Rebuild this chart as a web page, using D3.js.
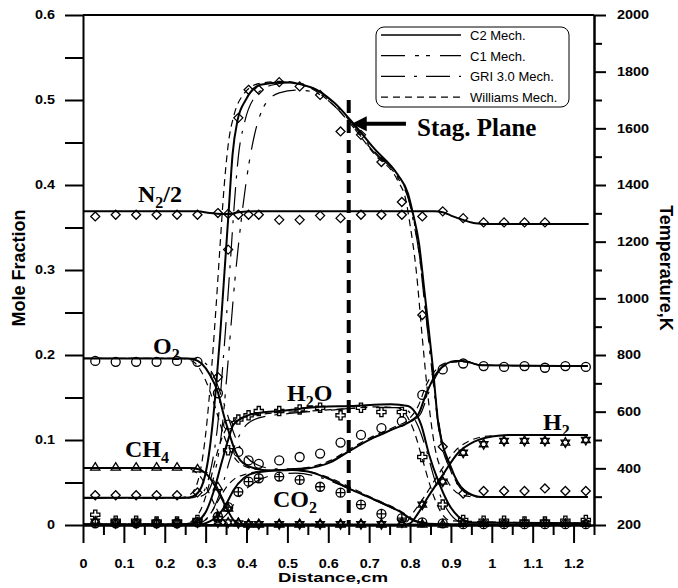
<!DOCTYPE html>
<html>
<head>
<meta charset="utf-8">
<script src="https://cdn.jsdelivr.net/npm/d3@7"></script>
<style>
  body { margin: 0; background: #fff; }
  svg { display: block; }
  .axis text { font-family: 'Liberation Sans', Arial, sans-serif; font-weight: bold; font-size: 12px; fill: #000; }
  .axis path, .axis line { stroke: #000; stroke-width: 2; }
  .title { font-family: 'Liberation Sans', Arial, sans-serif; font-weight: bold; font-size: 18px; }
  .lbl { font-family: 'Liberation Serif', 'Times New Roman', serif; font-weight: bold; font-size: 24px; }
  .legend text { font-family: 'Liberation Sans', Arial, sans-serif; font-size: 13px; }
</style>
</head>
<body>
<div id="chart"></div>
<script>
// ---- data: [distance cm, value] ----
// temperature (K), right axis
const tempC2 = [[0,296],[0.25,296],[0.27,302],[0.29,335],[0.31,470],[0.325,680],[0.335,860],[0.345,1070],[0.356,1300],[0.366,1510],[0.378,1628],[0.398,1700],[0.434,1754],[0.49,1763],[0.557,1745],[0.614,1691],[0.655,1628],[0.712,1529],[0.77,1436],[0.795,1370],[0.807,1300],[0.822,1193],[0.835,1028],[0.857,737],[0.868,572],[0.9,404],[0.932,323],[0.974,299],[1.235,299]];
const tempC1 = [[0,296],[0.27,296],[0.30,310],[0.32,370],[0.34,540],[0.355,780],[0.37,1040],[0.385,1250],[0.40,1420],[0.42,1580],[0.447,1688],[0.48,1725],[0.52,1735],[0.56,1730],[0.614,1680],[0.655,1615],[0.712,1515],[0.77,1425],[0.795,1355],[0.81,1270],[0.825,1130],[0.84,930],[0.86,680],[0.875,520],[0.9,395],[0.935,315],[0.98,299],[1.235,299]];
const tempGRI = [[0,296],[0.26,296],[0.29,310],[0.31,380],[0.33,560],[0.345,820],[0.36,1120],[0.37,1330],[0.38,1500],[0.395,1620],[0.42,1710],[0.46,1752],[0.51,1762],[0.56,1745],[0.614,1688],[0.655,1622],[0.712,1520],[0.77,1428],[0.795,1360],[0.807,1280],[0.822,1160],[0.835,990],[0.857,700],[0.87,540],[0.9,390],[0.935,315],[0.98,299],[1.235,299]];
const tempWil = [[0,296],[0.24,296],[0.26,305],[0.28,350],[0.30,520],[0.315,760],[0.325,960],[0.335,1180],[0.345,1390],[0.355,1540],[0.37,1650],[0.39,1715],[0.43,1758],[0.49,1766],[0.557,1742],[0.614,1680],[0.655,1615],[0.712,1510],[0.77,1415],[0.79,1345],[0.80,1260],[0.815,1100],[0.83,860],[0.845,640],[0.86,480],[0.89,360],[0.92,310],[0.96,299],[1.235,299]];

// mole fractions, left axis
const n2C2 = [[0,0.369],[0.28,0.369],[0.31,0.367],[0.34,0.366],[0.36,0.366],[0.38,0.368],[0.42,0.369],[0.86,0.369],[0.88,0.368],[0.9,0.364],[0.93,0.359],[0.96,0.355],[1.0,0.354],[1.237,0.354]];

const o2C2 = [[0,0.196],[0.25,0.196],[0.27,0.195],[0.29,0.19],[0.31,0.177],[0.33,0.156],[0.345,0.128],[0.355,0.112],[0.37,0.09],[0.385,0.076],[0.417,0.067],[0.46,0.064],[0.54,0.066],[0.606,0.074],[0.655,0.088],[0.712,0.103],[0.76,0.113],[0.807,0.124],[0.82,0.13],[0.84,0.155],[0.864,0.178],[0.89,0.19],[0.91,0.193],[0.93,0.193],[0.974,0.188],[1.235,0.187]];
const o2Wil = [[0,0.196],[0.24,0.196],[0.27,0.192],[0.29,0.18],[0.31,0.158],[0.33,0.128],[0.345,0.105],[0.36,0.088],[0.38,0.074],[0.417,0.066],[0.46,0.064],[0.54,0.067],[0.606,0.076],[0.655,0.09],[0.712,0.105],[0.76,0.115],[0.8,0.126],[0.82,0.14],[0.84,0.165],[0.864,0.183],[0.89,0.191],[0.93,0.192],[0.974,0.188],[1.235,0.187]];
const o2GRI = [[0,0.196],[0.27,0.196],[0.3,0.19],[0.32,0.175],[0.34,0.15],[0.36,0.12],[0.38,0.095],[0.40,0.08],[0.43,0.07],[0.47,0.066],[0.54,0.067],[0.606,0.075],[0.655,0.088],[0.712,0.103],[0.76,0.113],[0.807,0.123],[0.825,0.13],[0.845,0.155],[0.87,0.18],[0.9,0.191],[0.93,0.193],[0.974,0.188],[1.235,0.187]];

const ch4C2 = [[0,0.067],[0.26,0.067],[0.28,0.066],[0.304,0.059],[0.329,0.041],[0.353,0.018],[0.368,0.006],[0.385,0.001],[1.235,0]];
const ch4Wil = [[0,0.067],[0.25,0.067],[0.27,0.064],[0.29,0.055],[0.31,0.036],[0.33,0.016],[0.345,0.005],[0.36,0.001],[1.235,0]];
const ch4GRI = [[0,0.067],[0.28,0.067],[0.30,0.063],[0.32,0.052],[0.34,0.033],[0.36,0.014],[0.375,0.004],[0.39,0.001],[1.235,0]];

const h2oC2 = [[0,0.001],[0.25,0.001],[0.28,0.005],[0.3,0.015],[0.32,0.04],[0.34,0.075],[0.355,0.1],[0.368,0.118],[0.39,0.126],[0.417,0.131],[0.5,0.135],[0.582,0.139],[0.655,0.14],[0.753,0.142],[0.795,0.14],[0.807,0.136],[0.827,0.118],[0.847,0.082],[0.868,0.053],[0.893,0.026],[0.918,0.01],[0.95,0.003],[1.235,0.002]];
const h2oWil = [[0,0.001],[0.24,0.001],[0.27,0.006],[0.29,0.02],[0.31,0.05],[0.33,0.088],[0.35,0.113],[0.37,0.123],[0.40,0.128],[0.45,0.131],[0.55,0.134],[0.65,0.137],[0.72,0.139],[0.77,0.138],[0.79,0.13],[0.81,0.11],[0.83,0.078],[0.85,0.045],[0.87,0.02],[0.9,0.005],[1.235,0.002]];
const h2oGRI = [[0,0.001],[0.27,0.001],[0.30,0.006],[0.32,0.02],[0.34,0.045],[0.36,0.078],[0.38,0.103],[0.40,0.118],[0.43,0.126],[0.5,0.131],[0.6,0.135],[0.7,0.138],[0.78,0.138],[0.80,0.132],[0.82,0.116],[0.84,0.088],[0.86,0.054],[0.88,0.028],[0.9,0.012],[0.93,0.003],[1.235,0.002]];

const co2C2 = [[0,0],[0.28,0],[0.30,0.002],[0.32,0.007],[0.34,0.017],[0.353,0.027],[0.368,0.041],[0.393,0.055],[0.427,0.062],[0.5,0.065],[0.55,0.063],[0.598,0.055],[0.655,0.042],[0.712,0.03],[0.778,0.015],[0.81,0.005],[0.85,0.001],[1.235,0]];
const co2Wil = [[0,0],[0.26,0],[0.29,0.003],[0.31,0.012],[0.33,0.028],[0.35,0.044],[0.37,0.054],[0.40,0.06],[0.45,0.064],[0.5,0.065],[0.55,0.063],[0.6,0.056],[0.655,0.044],[0.712,0.031],[0.778,0.016],[0.81,0.006],[0.85,0.001],[1.235,0]];
const co2GRI = [[0,0],[0.3,0],[0.33,0.004],[0.35,0.012],[0.37,0.025],[0.39,0.038],[0.42,0.05],[0.46,0.058],[0.52,0.061],[0.58,0.056],[0.64,0.045],[0.7,0.032],[0.76,0.019],[0.8,0.008],[0.84,0.002],[1.235,0]];

const h2C2 = [[0,0],[0.78,0],[0.8,0.002],[0.82,0.014],[0.844,0.033],[0.876,0.056],[0.918,0.085],[0.957,0.098],[1.0,0.104],[1.04,0.106],[1.235,0.106]];
const h2Wil = [[0,0],[0.77,0],[0.79,0.003],[0.81,0.016],[0.84,0.037],[0.87,0.06],[0.91,0.087],[0.95,0.1],[1.0,0.105],[1.235,0.106]];

// measured points (shared distances)
const xExp = [0.03,0.08,0.13,0.18,0.23,0.28,0.33,0.355,0.38,0.405,0.43,0.48,0.53,0.58,0.63,0.68,0.73,0.78,0.83,0.88,0.93,0.98,1.03,1.08,1.13,1.18,1.23];
const tempExp = [305,305,305,305,305,315,722,1172,1637,1736,1736,1763,1748,1718,1589,1577,1481,1340,941,476,311,320,320,320,329,320,320];
const n2Exp = [0.363,0.365,0.365,0.365,0.365,0.365,0.367,0.366,0.365,0.365,0.365,0.359,0.359,0.364,0.361,0.365,0.365,0.365,0.363,0.369,0.361,0.356,0.356,0.356,0.356,null,null];
const o2Exp = [0.193,0.192,0.192,0.192,0.193,0.192,0.155,0.118,0.086,0.076,0.072,0.076,0.08,0.084,0.097,0.106,0.114,0.122,0.153,0.183,0.19,0.187,0.186,0.187,0.185,0.187,0.186];
const ch4Exp = [0.068,0.068,0.068,0.068,0.068,0.066,0.045,0.02,0.003,0.001,0.001,0.001,0.001,0.001,0.001,0.001,0.001,0.001,0.001,0.001,0.002,0.002,0.002,0.002,0.002,0.002,0.002];
const h2oExp = [0.012,0.005,0.005,0.004,0.004,0.006,0.008,0.088,0.124,0.129,0.134,0.134,0.136,0.138,0.129,0.138,0.133,0.133,0.08,0.024,0.006,0.005,0.005,0.004,0.004,0.005,0.006];
const co2Exp = [0.002,0.002,0.002,0.002,0.002,0.003,0.01,0.021,0.039,0.051,0.055,0.057,0.053,0.045,0.038,0.024,0.013,0.008,0.003,0.002,0.001,0.001,0.001,0.001,0.001,0.001,0.001];
const h2Exp = [0.004,0.002,0.002,0.002,0.002,0.003,0.003,0.003,0.002,0.001,0.001,0.001,0.001,0.001,0.001,0.001,0.001,0.003,0.024,0.051,0.085,0.095,0.099,0.099,0.099,0.097,0.1];

const mechNames = ['C2 Mech.', 'C1 Mech.', 'GRI 3.0 Mech.', 'Williams Mech.'];
const xMajor = d3.range(0, 1.201, 0.1);
const xMinor = d3.range(0.05, 1.251, 0.1);
const yTicks = d3.range(0, 0.601, 0.05);
const tMajor = d3.range(200, 2001, 200);
const tMinor = d3.range(300, 1901, 200);
const stagX = 0.65;

// ---- layout ----
const W = 678, H = 588;
const margin = { top: 15, right: 84, bottom: 63, left: 83 };
const width = W - margin.left - margin.right;
const height = H - margin.top - margin.bottom;
const stretch = 1.2; // tick labels in the figure are drawn a little wide

const svg = d3.select('#chart').append('svg').attr('width', W).attr('height', H);
const g = svg.append('g').attr('transform', `translate(${margin.left},${margin.top})`);

const x = d3.scaleLinear().domain([0, 1.25]).range([0, width]);
const y = d3.scaleLinear().domain([0, 0.6]).range([height, 0]);
const yT = d3.scaleLinear().domain([200, 2000]).range([height, 0]);

const fmt = d => String(+d.toFixed(1));
const isMajor = d => Math.abs(d * 10 - Math.round(d * 10)) < 1e-6;
const widen = (sel, tx) => sel.selectAll('text')
  .attr('x', tx / stretch)
  .attr('transform', `scale(${stretch},1)`);

// axes
g.append('g').attr('class', 'axis')
  .attr('transform', `translate(0,${height})`)
  .call(d3.axisBottom(x).tickValues(xMinor).tickSize(10).tickSizeOuter(0).tickFormat(''));
g.append('g').attr('class', 'axis')
  .attr('transform', `translate(0,${height})`)
  .call(d3.axisBottom(x).tickValues(xMajor).tickSize(18).tickPadding(16).tickSizeOuter(0).tickFormat(fmt))
  .call(s => widen(s, 0));
g.append('g').attr('class', 'axis')
  .call(d3.axisLeft(y).tickValues(yTicks).tickSize(18).tickPadding(10).tickSizeOuter(0)
    .tickFormat(d => isMajor(d) ? fmt(d) : ''))
  .call(s => widen(s, -28));
g.append('g').attr('class', 'axis')
  .attr('transform', `translate(${width},0)`)
  .call(d3.axisRight(yT).tickValues(tMinor).tickSize(8).tickSizeOuter(0).tickFormat(''));
g.append('g').attr('class', 'axis')
  .attr('transform', `translate(${width},0)`)
  .call(d3.axisRight(yT).tickValues(tMajor).tickSize(12).tickPadding(11).tickSizeOuter(0).tickFormat(d3.format('d')))
  .call(s => widen(s, 23));
g.append('line')
  .attr('x1', 0).attr('x2', width).attr('y1', 0).attr('y2', 0)
  .attr('stroke', '#000').attr('stroke-width', 2);

// axis titles
svg.append('text').attr('class', 'title')
  .attr('transform', 'translate(25,268) rotate(-90)')
  .attr('text-anchor', 'middle').text('Mole Fraction');
svg.append('text').attr('class', 'title')
  .attr('transform', 'translate(660,268) rotate(90)')
  .attr('text-anchor', 'middle').text('Temperature,K');
svg.append('text').attr('class', 'title')
  .attr('x', 278).attr('y', 582)
  .style('font-size', '13px')
  .attr('textLength', 110).attr('lengthAdjust', 'spacingAndGlyphs')
  .text('Distance,cm');

// line styles per mechanism
const styles = {
  c2: { w: 2, dash: null },
  c1: { w: 1.2, dash: '24,10,4,7,4,10' },
  gri: { w: 1.2, dash: '24,9,3,9' },
  wil: { w: 1.2, dash: '7,5' },
};

const series = [
  [tempWil, 'T', 'wil'], [tempGRI, 'T', 'gri'], [tempC1, 'T', 'c1'], [tempC2, 'T', 'c2'],
  [n2C2, 'M', 'c2'],
  [o2Wil, 'M', 'wil'], [o2GRI, 'M', 'gri'], [o2C2, 'M', 'c2'],
  [ch4Wil, 'M', 'wil'], [ch4GRI, 'M', 'gri'], [ch4C2, 'M', 'c2'],
  [h2oWil, 'M', 'wil'], [h2oGRI, 'M', 'gri'], [h2oC2, 'M', 'c2'],
  [co2Wil, 'M', 'wil'], [co2GRI, 'M', 'gri'], [co2C2, 'M', 'c2'],
  [h2Wil, 'M', 'wil'], [h2C2, 'M', 'c2'],
];

series.forEach(([data, axis, st]) => {
  const ys = axis === 'T' ? yT : y;
  const line = d3.line().x(d => x(d[0])).y(d => ys(d[1])).curve(d3.curveMonotoneX);
  g.append('path')
    .datum(data)
    .attr('d', line)
    .attr('fill', 'none')
    .attr('stroke', '#000')
    .attr('stroke-width', styles[st].w)
    .attr('stroke-dasharray', styles[st].dash);
});

// stagnation plane
g.append('line')
  .attr('x1', x(stagX)).attr('x2', x(stagX))
  .attr('y1', y(0.5)).attr('y2', height)
  .attr('stroke', '#000').attr('stroke-width', 4).attr('stroke-dasharray', '13,7');

// marker shapes
const shapes = {
  diamond: 'M0,-4.5L4.5,0L0,4.5L-4.5,0Z',
  circle: 'M-4.5,0a4.5,4.5 0 1,0 9,0a4.5,4.5 0 1,0 -9,0Z',
  triangle: 'M0,-4.5L4.6,3L-4.6,3Z',
  cross: 'M-1.6,-4.6H1.6V-1.6H4.6V1.6H1.6V4.6H-1.6V1.6H-4.6V-1.6H-1.6Z',
  oplus: 'M-4.5,0a4.5,4.5 0 1,0 9,0a4.5,4.5 0 1,0 -9,0ZM-4.5,0H4.5M0,-4.5V4.5',
  star: 'M0,-5L4.3,2.5L-4.3,2.5ZM0,5L4.3,-2.5L-4.3,-2.5Z',
};

const markerSeries = [
  [tempExp, 'T', 'diamond'],
  [n2Exp, 'M', 'diamond'],
  [o2Exp, 'M', 'circle'],
  [ch4Exp, 'M', 'triangle'],
  [h2oExp, 'M', 'cross'],
  [co2Exp, 'M', 'oplus'],
  [h2Exp, 'M', 'star'],
];

markerSeries.forEach(([vals, axis, shape]) => {
  const ys = axis === 'T' ? yT : y;
  const pts = xExp.map((d, i) => [d, vals[i]]).filter(d => d[1] !== null);
  g.append('g').selectAll('path')
    .data(pts)
    .enter()
    .append('path')
    .attr('transform', d => `translate(${x(d[0])},${ys(d[1])})`)
    .attr('d', shapes[shape])
    .attr('fill', 'none')
    .attr('stroke', '#000')
    .attr('stroke-width', 1.3);
});

// species labels
const labels = [
  { x: 138, y: 202, parts: ['N', '2', '/2'] },
  { x: 153, y: 354, parts: ['O', '2'] },
  { x: 125, y: 457, parts: ['CH', '4'] },
  { x: 287, y: 401, parts: ['H', '2', 'O'] },
  { x: 273, y: 507, parts: ['CO', '2'] },
  { x: 543, y: 430, parts: ['H', '2'] },
];
labels.forEach(l => {
  const t = svg.append('text').attr('class', 'lbl').attr('x', l.x).attr('y', l.y);
  l.parts.forEach((p, i) => {
    const sub = i % 2 === 1;
    t.append('tspan')
      .attr('dy', i === 0 ? 0 : (sub ? 6 : -6))
      .style('font-size', sub ? '16px' : null)
      .text(p);
  });
});

// stag. plane arrow + text
const ay = y(0.472);
g.append('line')
  .attr('x1', x(stagX) + 16).attr('x2', x(0.79))
  .attr('y1', ay).attr('y2', ay)
  .attr('stroke', '#000').attr('stroke-width', 4);
g.append('path')
  .attr('d', `M${x(stagX) + 3},${ay}L${x(stagX) + 18},${ay - 7.5}L${x(stagX) + 18},${ay + 7.5}Z`)
  .attr('fill', '#000');
svg.append('text').attr('class', 'lbl')
  .attr('x', 417).attr('y', 136)
  .style('font-size', '25px')
  .text('Stag. Plane');

// legend
const legend = svg.append('g').attr('class', 'legend');
legend.append('rect')
  .attr('x', 376).attr('y', 27).attr('width', 193).attr('height', 80)
  .attr('rx', 8).attr('fill', '#fff').attr('stroke', '#000').attr('stroke-width', 1);
['c2', 'c1', 'gri', 'wil'].forEach((st, i) => {
  const ly = 35 + i * 20.7;
  legend.append('line')
    .attr('x1', 381).attr('x2', 461).attr('y1', ly).attr('y2', ly)
    .attr('stroke', '#000').attr('stroke-width', st === 'c2' ? 1.6 : 1.2)
    .attr('stroke-dasharray', styles[st].dash);
  legend.append('text')
    .attr('x', 470).attr('y', ly + 5)
    .text(mechNames[i]);
});
</script>
</body>
</html>
